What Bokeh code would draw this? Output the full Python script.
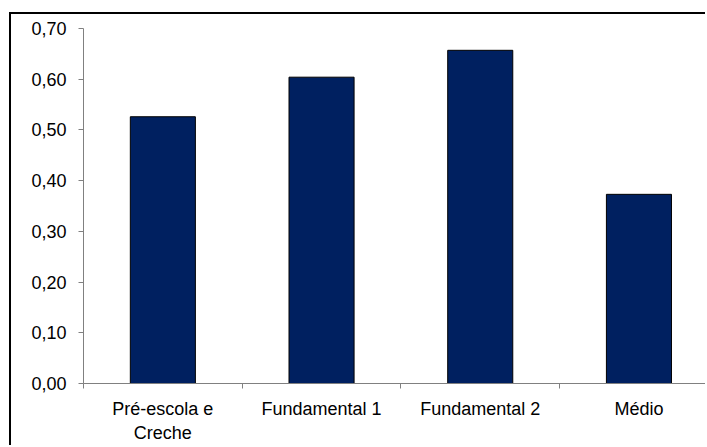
from bokeh.plotting import figure
from bokeh.models import Range1d, FixedTicker, LinearAxis, CustomJSTickFormatter
from bokeh.embed import file_html
from bokeh.resources import INLINE

# Data
categories = ["Pré-escola e", "Fundamental 1", "Fundamental 2", "Médio"]
categories_line2 = ["Creche", "", "", ""]
values = [0.526, 0.604, 0.657, 0.373]
y_ticks = [0.0, 0.1, 0.2, 0.3, 0.4, 0.5, 0.6, 0.7]

FONT = "Liberation Sans"
centers = [i + 0.5 for i in range(len(categories))]
bounds = [float(i) for i in range(len(categories))]

p = figure(width=696, height=433, output_backend="svg", toolbar_location=None,
           x_range=Range1d(0, 3.932), y_range=Range1d(0, 0.70),
           x_axis_location=None, y_axis_location=None,
           min_border_left=72, min_border_right=0, min_border_top=14, min_border_bottom=64)
p.outline_line_color = None
p.xgrid.visible = False
p.ygrid.visible = False
p.background_fill_color = "white"
p.border_fill_color = "white"
p.styles = {"margin-left": "9px", "margin-top": "12px",
            "border-left": "2px solid black", "border-top": "2px solid black"}

p.vbar(x=centers, top=values, width=0.41, fill_color="#002060",
       line_color="black", line_width=1)

yaxis = LinearAxis(ticker=FixedTicker(ticks=y_ticks, minor_ticks=[]),
                   formatter=CustomJSTickFormatter(code="return tick.toFixed(2).replace('.', ',');"),
                   axis_line_color="#808080", major_tick_line_color="#808080",
                   major_tick_in=0, major_tick_out=5, minor_tick_in=0, minor_tick_out=0,
                   major_label_text_font=FONT, major_label_text_font_size="18px",
                   major_label_text_color="black", major_label_standoff=12)
p.add_layout(yaxis, "left")

# category labels centred in each slot; separators as minor ticks on the slot bounds
xaxis = LinearAxis(ticker=FixedTicker(ticks=centers, minor_ticks=bounds),
                   formatter=CustomJSTickFormatter(args=dict(labels=categories),
                                                   code="return labels[Math.floor(tick)];"),
                   axis_line_color="#808080", major_tick_line_color=None,
                   minor_tick_line_color="#808080",
                   major_tick_in=0, major_tick_out=0, minor_tick_in=0, minor_tick_out=5,
                   major_label_text_font=FONT, major_label_text_font_size="18px",
                   major_label_text_color="black", major_label_standoff=10)
p.add_layout(xaxis, "below")

# wrapped second line of the category labels
xaxis2 = LinearAxis(ticker=FixedTicker(ticks=centers, minor_ticks=[]),
                    formatter=CustomJSTickFormatter(args=dict(labels=categories_line2),
                                                    code="return labels[Math.floor(tick)];"),
                    axis_line_color=None, major_tick_line_color=None,
                    minor_tick_line_color=None,
                    major_tick_in=0, major_tick_out=0, minor_tick_in=0, minor_tick_out=0,
                    major_label_text_font=FONT, major_label_text_font_size="18px",
                    major_label_text_line_height=1.0,
                    major_label_text_color="black", major_label_standoff=1)
p.add_layout(xaxis2, "below")

open("out.html", "w").write(file_html(p, INLINE))
